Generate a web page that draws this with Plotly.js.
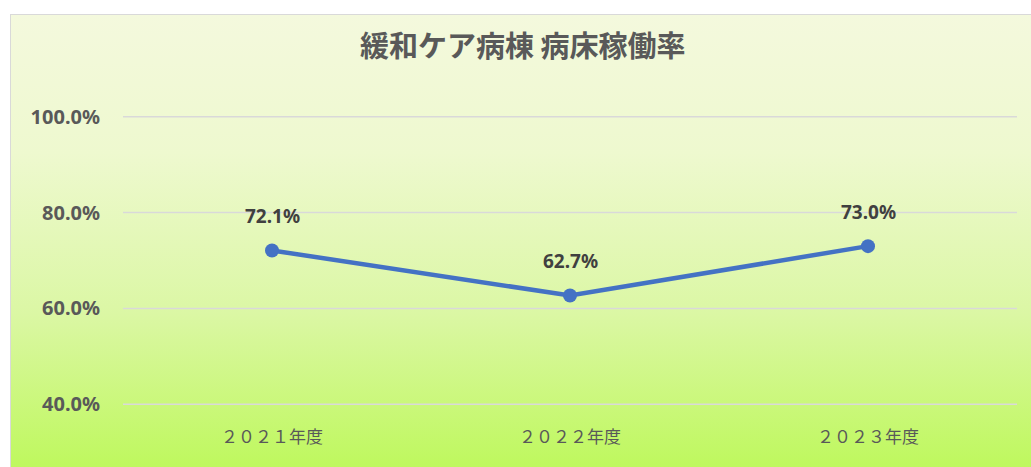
<!DOCTYPE html>
<html><head><meta charset="utf-8">
<script src="https://cdn.plot.ly/plotly-3.0.1.min.js"></script>
<style>
html,body{margin:0;padding:0;background:#fff;width:1031px;height:467px;overflow:hidden;}
#bg{position:absolute;left:10px;top:14px;width:1030px;height:460px;border:1.5px solid #D9D9D9;
background:linear-gradient(to bottom,#F4F9DD 0%,#EEF9CF 30%,#DBF7A4 65%,#BDF85A 100%);}
#chart{position:absolute;left:0;top:0;width:1031px;height:467px;}
</style></head><body>
<div id="bg"></div>
<div id="chart"></div>
<script>
const categories = ['２０２１年度','２０２２年度','２０２３年度'];
const occupancy = [0.721, 0.627, 0.730];
const labels = ['72.1%','62.7%','73.0%'];
const yTicks = [0.4, 0.6, 0.8, 1.0];
const yTickLabels = ['40.0%','60.0%','80.0%','100.0%'];

const trace = {
  x: categories, y: occupancy, type:'scatter', mode:'lines+markers',
  line:{color:'#4472C4', width:4.5}, marker:{color:'#4472C4', size:14},
  hoverinfo:'skip'
};
const annotations = categories.map((c,i)=>({
  x:c, y:occupancy[i], text:labels[i], showarrow:false, yshift:34,
  font:{family:'Noto Sans, Open Sans, sans-serif', size:19, color:'#404040', weight:'bold'}
}));
const gridShapes = yTicks.map(v=>({
  type:'line', xref:'paper', x0:0, x1:1, yref:'y', y0:v, y1:v,
  line:{color:'#D9D9D9', width:1.5}, layer:'below'
}));
const layout = {
  width:1031, height:467,
  paper_bgcolor:'rgba(0,0,0,0)', plot_bgcolor:'rgba(0,0,0,0)',
  margin:{l:123, r:14, t:112, b:58},
  title:{text:'緩和ケア病棟 病床稼働率', x:0.507, xanchor:'center', y:0.899, yanchor:'middle',
    font:{family:'Noto Sans CJK JP, sans-serif', size:29, color:'#595959', weight:'bold'}},
  showlegend:false,
  xaxis:{type:'category', range:[-0.5,2.5], showgrid:false, zeroline:false, showline:false, ticks:'',
    tickfont:{family:'Noto Sans CJK JP, sans-serif', size:17, color:'#595959'}, ticklabelstandoff:16},
  yaxis:{range:[0.39,1.01], tickvals:yTicks, ticktext:yTickLabels, showgrid:false,
    zeroline:false, showline:false, ticks:'',
    tickfont:{family:'Noto Sans, Open Sans, sans-serif', size:20, color:'#595959', weight:'bold'}, ticklabelstandoff:22},
  shapes: gridShapes,
  annotations: annotations
};
Plotly.newPlot('chart',[trace],layout,{staticPlot:true});
</script></body></html>
